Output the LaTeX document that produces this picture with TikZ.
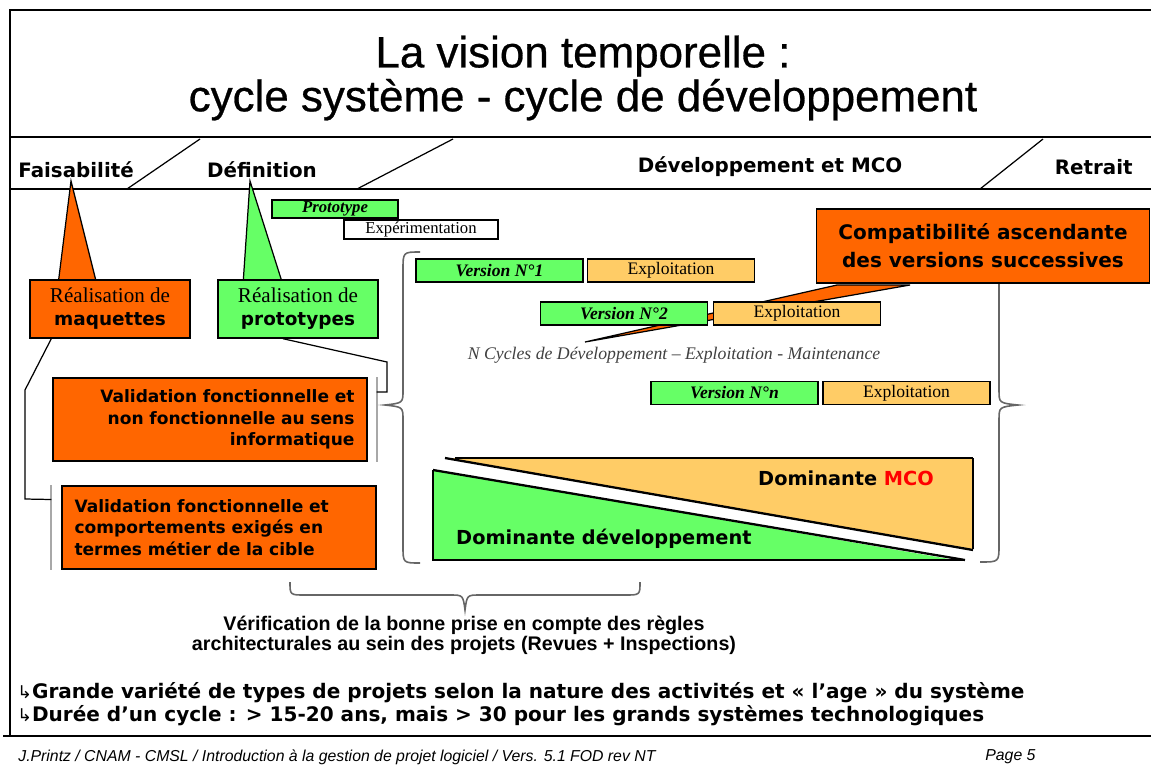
\documentclass[tikz,border=0pt]{standalone}
\usepackage{fontspec}
\setmainfont{Liberation Serif}
\newfontfamily\arialfont{Liberation Sans}
\newfontfamily\titlefont[FakeBold=0.6]{Liberation Sans}
\newfontfamily\verdfont{DejaVu Sans}
\usetikzlibrary{calc}

\definecolor{orangeMaq}{HTML}{FF6600}
\definecolor{greenProto}{HTML}{66FF66}
\definecolor{orangeExp}{HTML}{FFCC66}
\definecolor{redMco}{HTML}{FF0000}
\definecolor{grayBar}{HTML}{A8A8A8}

\tikzset{
  frame/.style={line width=1pt},
  phase/.style={font=\verdfont\bfseries\fontsize{11.3}{13}\selectfont, inner sep=0pt},
  bar/.style={draw, line width=0.8pt, minimum width=3.34cm, minimum height=0.46cm, inner sep=0pt, font=\fontsize{10}{11}\selectfont},
  callbox/.style={draw, line width=0.8pt, minimum width=3.2cm, minimum height=1.16cm, inner sep=0pt, align=center, font=\fontsize{12}{14}\selectfont},
  valbox/.style={draw, line width=0.8pt, fill=orangeMaq, minimum width=6.28cm, minimum height=1.66cm, inner sep=0pt, text width=5.78cm, font=\verdfont\bfseries\fontsize{9.7}{12.4}\selectfont},
  brace/.style={draw=black!60, line width=0.9pt},
  graybar/.style={draw=grayBar, line width=1.2pt},
  link/.style={draw, line width=0.7pt},
  stair/.style={line width=1.3pt}
}

\begin{document}
\begin{tikzpicture}[x=0.02cm, y=-0.02cm]
    \useasboundingbox (0,0) rectangle (1151,771);

    % Frame and title
    \draw[frame] (1151,10) -- (10,10) -- (10,736);
    \draw[frame] (10,137) -- (1151,137);
    \draw[frame] (10,189) -- (1151,189);
    \draw[frame] (3,736) -- (1151,736);
    \node[align=center, font=\titlefont\fontsize{25}{25}\selectfont] (title) at (583,78)
        {La vision temporelle :\\cycle système - cycle de développement};

    % Phases
    \node[phase, anchor=west] (fais) at (18,170) {Faisabilité};
    \node[phase] (defi) at (262,170) {Définition};
    \node[phase] (devmco) at (770,167) {Développement et MCO};
    \node[phase, anchor=east] (retrait) at (1133,167) {Retrait};
    \draw[line width=0.7pt] (127,189) -- (200,139);
    \draw[line width=0.7pt] (357,189) -- (453,139);
    \draw[line width=0.7pt] (980,189) -- (1043,139);

    % Callouts on the phases
    \coordinate (maqtip) at (71,181);
    \coordinate (prototip) at (250,181);
    \filldraw[fill=orangeMaq, line width=0.7pt] (maqtip) -- (97,285) -- (58,285) -- cycle;
    \filldraw[fill=greenProto, line width=0.7pt] (prototip) -- (283,285) -- (243,285) -- cycle;
    \node[callbox, fill=orangeMaq] (maq) at (110,309) {Réalisation de\\[-1pt]{\verdfont\bfseries\fontsize{10.5}{12}\selectfont maquettes}};
    \node[callbox, fill=greenProto] (protobox) at (298,309) {Réalisation de\\[-1pt]{\verdfont\bfseries\fontsize{10.5}{12}\selectfont prototypes}};

    % Prototype bars
    \node[bar, fill=greenProto, minimum width=2.52cm, minimum height=0.36cm, font=\bfseries\itshape\fontsize{9.5}{10}\selectfont] (proto) at (335,209) {Prototype};
    \node[bar, fill=white, minimum width=3.08cm, minimum height=0.38cm, font=\fontsize{9.5}{10}\selectfont] (exper) at (421,229.5) {Expérimentation};

    % Braces
    \draw[brace] (420,252) .. controls (403,252) .. (403,270) -- (403,390)
        .. controls (403,403) .. (385,405) .. controls (403,407) .. (403,420)
        -- (403,546) .. controls (403,563) .. (420,563);
    \draw[brace] (982,252) .. controls (999,252) .. (999,270) -- (999,390)
        .. controls (999,403) .. (1018,405) .. controls (999,407) .. (999,420)
        -- (999,545) .. controls (999,562) .. (980,562);
    \draw[brace] (290,582) .. controls (290,595) .. (305,595) -- (450,595)
        .. controls (463,595) .. (465,610) .. controls (467,595) .. (480,595)
        -- (625,595) .. controls (640,595) .. (640,582);

    % Compatibility callout
    \filldraw[fill=orangeMaq, line width=0.7pt] (585,342) -- (837,285) -- (910,285) -- cycle;
    \node[draw, line width=0.8pt, fill=orangeMaq, minimum width=6.66cm, minimum height=1.48cm, inner sep=0pt, align=center,
        font=\verdfont\bfseries\fontsize{11.4}{16}\selectfont] (compat) at (983,246)
        {Compatibilité ascendante\\des versions successives};

    % Versions
    \node[bar, fill=greenProto, font=\bfseries\itshape\fontsize{10}{11}\selectfont] (v1) at (499.5,270.5) {Version N°1};
    \node[bar, fill=orangeExp] (e1) at (671,270.5) {Exploitation};
    \node[bar, fill=greenProto, font=\bfseries\itshape\fontsize{10}{11}\selectfont] (v2) at (624,313.5) {Version N°2};
    \node[bar, fill=orangeExp] (e2) at (797,313.5) {Exploitation};
    \node[text=black!75, font=\itshape\fontsize{10.1}{11}\selectfont] (ncycles) at (674,355)
        {N Cycles de Développement -- Exploitation - Maintenance};
    \node[bar, fill=greenProto, font=\bfseries\itshape\fontsize{10}{11}\selectfont] (vn) at (734.5,393) {Version N°n};
    \node[bar, fill=orangeExp] (en) at (906.5,393) {Exploitation};

    % Validation boxes
    \node[valbox, align=right] (val1) at (210,419.5)
        {Validation fonctionnelle et\\non fonctionnelle au sens\\informatique};
    \node[valbox, align=left] (val2) at (219,527.5)
        {Validation fonctionnelle et\\comportements exigés en\\termes métier de la cible};
    \draw[graybar] ($(val1.north east)+(9,0)$) -- ($(val1.south east)+(9,0)$);
    \draw[graybar] ($(val2.north west)+(-10,0)$) -- ($(val2.south west)+(-10,0)$);
    \draw[link] ($(maq.south west)+(22,0)$) -- (25,390) -- (25,499) -- ($(val2.west)+(-10,-28)$);
    \draw[link] ($(protobox.south)+(-15,0)$) -- (387,362) -- (387,392) -- ($(val1.east)+(9,-27.5)$);

    % Dominance triangles
    \fill[orangeExp] (445,458) -- (973,458) -- (973,549) -- cycle;
    \draw[line width=0.8pt] (973,458) -- (973,549);
    \draw[line width=0.8pt] (455,458) -- (973,458);
    \draw[stair] (445,458) -- (973,550);
    \fill[greenProto] (433,470) -- (433,560) -- (955,560) -- cycle;
    \draw[line width=0.8pt] (433,470) -- (433,560) -- (965,560);
    \draw[stair] (433,470) -- (965,560);
    \node[font=\verdfont\bfseries\fontsize{11}{13}\selectfont, anchor=east] (mco) at (940,478)
        {Dominante \textcolor{redMco}{MCO}};
    \node[font=\verdfont\bfseries\fontsize{11}{13}\selectfont, anchor=west] (devdom) at (450,539)
        {Dominante développement};

    % Architecture check
    \node[align=center, font=\arialfont\bfseries\fontsize{11.2}{11.4}\selectfont] (verif) at (464,635)
        {Vérification de la bonne prise en compte des règles\\architecturales au sein des projets (Revues + Inspections)};

    % Bullets
    \node[anchor=west, align=left, inner sep=0pt, font=\verdfont\bfseries\fontsize{11.4}{13}\selectfont] (bullets) at (17,704.5)
        {{\mdseries\fontsize{10}{13}\selectfont ↳}Grande variété de types de projets selon la nature des activités et « l’age » du système\\
         {\mdseries\fontsize{10}{13}\selectfont ↳}Durée d’un cycle : > 15-20 ans, mais > 30 pour les grands systèmes technologiques};

    % Footer
    \node[anchor=west, inner sep=0pt, font=\arialfont\itshape\fontsize{9}{10}\selectfont] (footer) at (18,757)
        {J.Printz / CNAM - CMSL / Introduction à la gestion de projet logiciel / Vers. 5.1 FOD rev NT};
    \node[anchor=west, inner sep=0pt, font=\arialfont\itshape\fontsize{9}{10}\selectfont] (page) at (985,757) {Page 5};
\end{tikzpicture}
\end{document}
